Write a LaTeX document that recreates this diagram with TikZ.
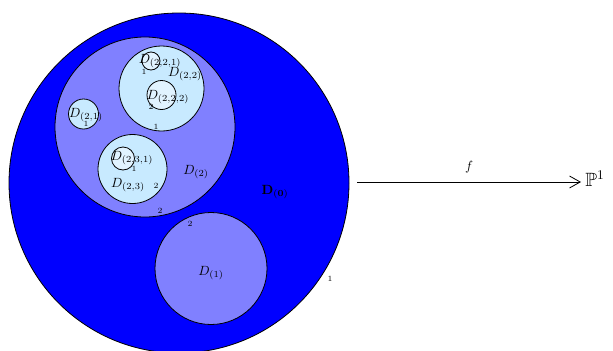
\documentclass[tikz,border=0pt]{standalone}
\usepackage{amssymb}
\usetikzlibrary{arrows.meta}
\definecolor{dblue}{RGB}{0,0,255}
\definecolor{mblue}{RGB}{128,128,255}
\definecolor{lblue}{RGB}{200,234,255}
\definecolor{vlblue}{RGB}{225,243,255}
\tikzset{
  disk/.style={draw=black, line width=0.6pt},
  lab/.style={inner sep=0pt, font=\normalsize},
  num/.style={inner sep=0pt, font=\fontsize{6}{7}\selectfont},
}
\begin{document}
\begin{tikzpicture}[x=0.75pt,y=-0.75pt]
\useasboundingbox (0,0) rectangle (613,350);
% disks
\path[disk, fill=dblue] (179,183) circle (170);
\path[disk, fill=mblue] (145,127) circle (90);
\path[disk, fill=mblue] (211,268.5) circle (56);
\path[disk, fill=lblue] (161.5,88.5) circle (42.5);
\path[disk, fill=lblue] (83.5,114) circle (15);
\path[disk, fill=lblue] (132.5,169) circle (34.5);
\path[disk, fill=vlblue] (151,61) circle (9);
\path[disk, fill=vlblue] (161.5,95) circle (14.5);
\path[disk, fill=vlblue] (123,158.5) circle (11.5);
% labels
\node[lab] (l221) at (160,61) {$D_{(2,2,1)}$};
\node[num] (n221) at (144,72) {1};
\node[lab] (l22) at (185,74) {$D_{(2,2)}$};
\node[lab] (l222) at (168,97) {$D_{(2,2,2)}$};
\node[num] (n222) at (151,107) {2};
\node[num] (n22) at (156,127) {1};
\node[lab] (l21) at (86,115) {$D_{(2,1)}$};
\node[num] (n21) at (86,124) {1};
\node[lab] (l231) at (132,158) {$D_{(2,3,1)}$};
\node[num] (n231) at (134,169) {1};
\node[lab] (l23) at (128,185) {$D_{(2,3)}$};
\node[num] (n23) at (156,186) {2};
\node[lab] (l2) at (196,172) {$D_{(2)}$};
\node[num] (n2) at (160,211) {2};
\node[num] (n1a) at (190,224) {2};
\node[lab] (l1) at (211,273) {$D_{(1)}$};
\node[num] (n0) at (330,279) {1};
\node[lab] (l0) at (275,192) {$\mathbf{D}_{\mathbf{(0)}}$};
% map
\coordinate (src) at (357,182);
\node[inner sep=0pt, anchor=west, font=\Large] (p1) at (585,179) {$\mathbb{P}^1$};
\draw[-{Straight Barb[length=8pt,width=9pt]}, line width=0.6pt] (src) -- (581,182) node[midway, above=3pt, font=\normalsize] (f) {$f$};
\end{tikzpicture}
\end{document}
